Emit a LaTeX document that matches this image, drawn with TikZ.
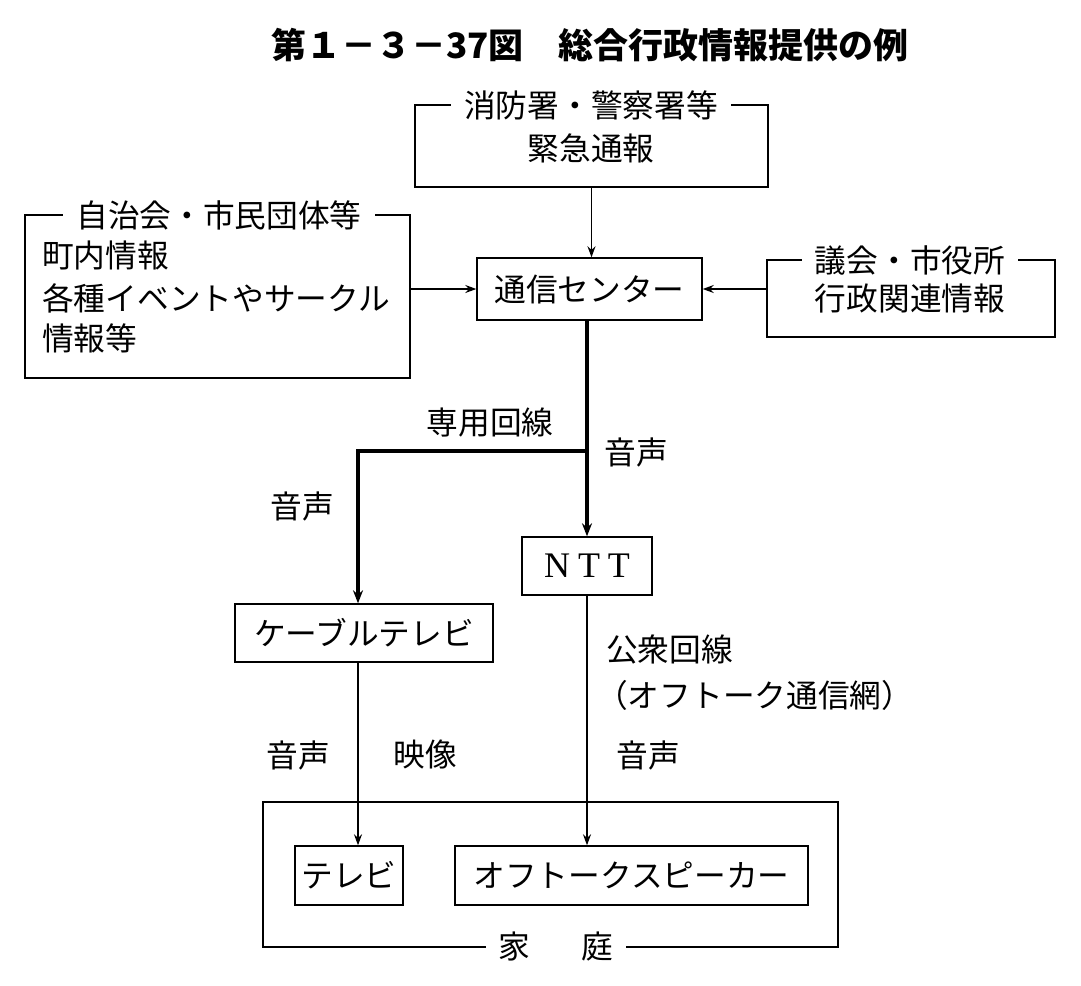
\documentclass[tikz,border=0pt]{standalone}
\usepackage{fontspec}
\setmainfont{Noto Sans CJK JP}
\newfontfamily\serifnt{Liberation Serif}
\usetikzlibrary{arrows.meta}
\begin{document}
\begin{tikzpicture}[x=1pt,y=-1pt,
  every node/.style={font=\fontsize{31.7}{40}\selectfont, inner sep=0pt},
  box/.style={draw, line width=1.4pt, minimum width=#1},
  ttl/.style={fill=white, inner xsep=13pt, inner ysep=2pt},
  txt/.style={anchor=west},
  thin/.style={line width=1.4pt, -{Stealth[length=11pt,width=8pt]}},
  fat/.style={line width=3.4pt},
  fatarr/.style={line width=3.4pt, -{Stealth[length=13pt,width=10pt]}}]
\useasboundingbox (0,0) rectangle (1081,985);

% title
\node[font=\fontsize{35}{40}\selectfont\bfseries] (title) at (590,45) {第１－３－37図　総合行政情報提供の例};

% fire box
\node[box=353pt, minimum height=82pt] (fire) at (591.5,146) {};
\node[ttl] (firet) at (591,105) {消防署・警察署等};
\node (firel) at (591,148) {緊急通報};

% left box
\node[box=385pt, minimum height=163pt] (left) at (217.5,296.5) {};
\node[ttl] (leftt) at (219,215) {自治会・市民団体等};
\node[txt] (l1) at (42,255) {町内情報};
\node[txt] (l2) at (42,298) {各種イベントやサークル};
\node[txt] (l3) at (42,338) {情報等};

% right box
\node[box=288pt, minimum height=77pt] (right) at (911,298.5) {};
\node[ttl] (rightt) at (910,260) {議会・市役所};
\node (rightl) at (910,298) {行政関連情報};

% center
\node[box=225pt, minimum height=62pt] (center) at (589.5,289) {通信センター};

% NTT
\node[box=130pt, minimum height=58pt, font=\fontsize{36}{40}\serifnt] (ntt) at (587,566) {N\hspace{8pt}T\hspace{8pt}T};

% cable
\node[box=258pt, minimum height=58pt] (cable) at (364,633) {ケーブルテレビ};

% home
\node[box=575pt, minimum height=145pt] (home) at (550.5,874.5) {};
\node[ttl] (homet) at (556,947) {家\hspace{1.6em}庭};
\node[box=108pt, minimum height=59pt] (tv) at (349,875.5) {テレビ};
\node[box=353pt, minimum height=59pt] (spk) at (631.5,875.5) {オフトークスピーカー};

% connectors
\draw[thin] (fire.south) -- (fire.south |- center.north);
\draw[thin] (center.west -| left.east) -- (center.west);
\draw[thin] (center.east -| right.west) -- (center.east);
\coordinate (br) at (ntt.north |- 0,451);
\draw[fat] (ntt.north |- center.south) -- (br);
\draw[fatarr] (br) -- (ntt.north);
\draw[fatarr, line join=miter] (br) -| ([xshift=-6pt]cable.north);
\draw[thin] ([xshift=-6pt]cable.south) -- ([xshift=-6pt]cable.south |- tv.north);
\draw[thin] (ntt.south) -- (ntt.south |- spk.north);

% labels
\node (lab1) at (490,423) {専用回線};
\node (lab2) at (636,452) {音声};
\node (lab3) at (302,506) {音声};
\node[txt] (lab4) at (606,650) {公衆回線};
\node[txt] (lab5) at (596,695) {（オフトーク通信網）};
\node (lab6) at (648,755) {音声};
\node (lab7) at (298,755) {音声};
\node (lab8) at (425,755) {映像};
\end{tikzpicture}
\end{document}
